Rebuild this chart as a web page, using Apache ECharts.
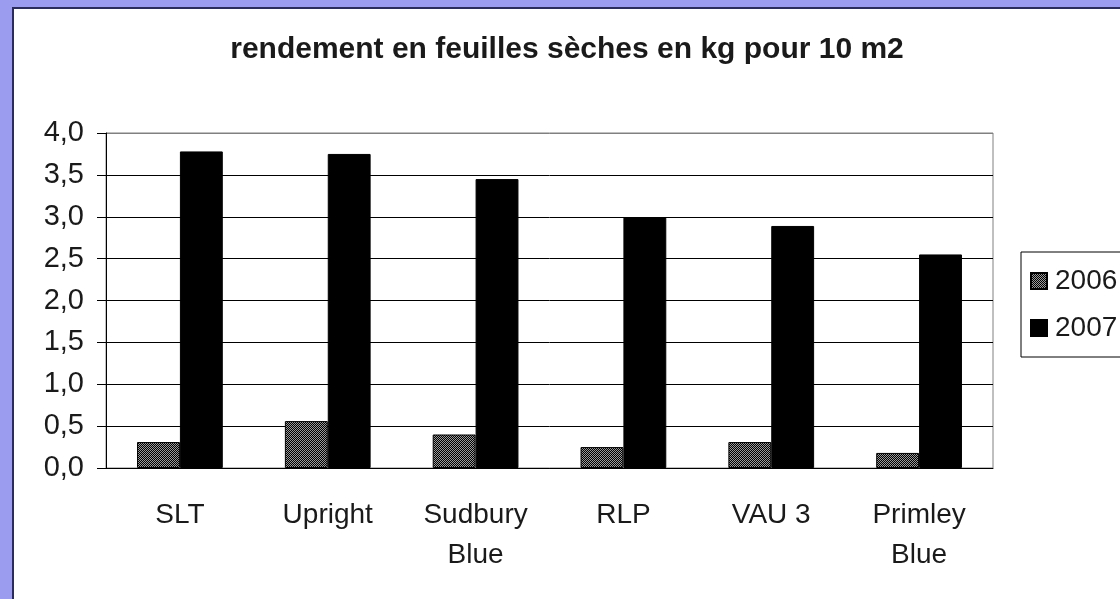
<!DOCTYPE html>
<html>
<head>
<meta charset="utf-8">
<script src="https://cdn.jsdelivr.net/npm/echarts@6/dist/echarts.min.js"></script>
<style>
  html, body { margin: 0; padding: 0; background: #9b9bef; overflow: hidden; }
  #show-report {
    position: absolute; left: 12px; top: 7px;
    width: 1106px; height: 590px;
    background: #fff;
    border-left: 2px solid #2c2c5c; border-top: 2px solid #2c2c5c;
  }
</style>
</head>
<body>
<div id="show-report"></div>
<script>
// données
var categories = ['SLT', 'Upright', 'Sudbury\nBlue', 'RLP', 'VAU 3', 'Primley\nBlue'];
var yield2006 = [0.31, 0.56, 0.40, 0.25, 0.31, 0.18];
var yield2007 = [3.78, 3.75, 3.45, 2.99, 2.89, 2.55];
var seriesNames = ['2006', '2007'];

// motif hachuré pour 2006
var pat = document.createElement('canvas');
pat.width = 2; pat.height = 2;
var ctx = pat.getContext('2d');
ctx.fillStyle = '#9a9a9a'; ctx.fillRect(0, 0, 2, 2);
ctx.fillStyle = '#000000'; ctx.fillRect(0, 0, 1, 1); ctx.fillRect(1, 1, 1, 1);

var myChart = echarts.init(document.getElementById('show-report'));
var font = '"Liberation Sans", Arial, sans-serif';

var option = {
  animation: false,
  title: {
    text: 'rendement en feuilles sèches en kg pour 10 m2',
    left: 'center',
    top: 21,
    textStyle: { fontFamily: font, fontSize: 30, fontWeight: 'bold', color: '#1a1a1a' }
  },
  legend: {
    left: 1007, top: 243,
    orient: 'vertical',
    data: seriesNames,
    itemWidth: 16, itemHeight: 16,
    itemGap: 19,
    padding: [15, 30, 15, 9],
    borderColor: '#000', borderWidth: 1,
    backgroundColor: '#fff',
    icon: 'rect',
    textStyle: { fontFamily: font, fontSize: 28, color: '#1a1a1a', padding: [0, 0, 0, 3] }
  },
  grid: { left: 92, top: 124, right: 127, bottom: 131, show: true, borderColor: '#808080', borderWidth: 1 },
  xAxis: {
    type: 'category',
    data: categories,
    axisLine: { lineStyle: { color: '#000', width: 1 } },
    axisTick: { length: 8, lineStyle: { color: '#000' } },
    axisLabel: { fontFamily: font, fontSize: 28, color: '#1a1a1a', margin: 27, lineHeight: 40 }
  },
  yAxis: {
    type: 'value',
    min: 0, max: 4, interval: 0.5,
    axisLine: { show: true, lineStyle: { color: '#000', width: 1 } },
    axisTick: { show: true, length: 9, lineStyle: { color: '#000' } },
    splitLine: { lineStyle: { color: ['#000', '#000', '#000', '#000', '#000', '#000', '#000', '#000', '#808080'], width: 1 } },
    axisLabel: {
      fontFamily: font, fontSize: 29, color: '#1a1a1a', margin: 22,
      formatter: function (v) { return v.toFixed(1).replace('.', ','); }
    }
  },
  series: [
    {
      name: seriesNames[0], type: 'bar', data: yield2006,
      barGap: '0%', barCategoryGap: '42%',
      itemStyle: { color: { image: pat, repeat: 'repeat' }, borderColor: '#000', borderWidth: 1 }
    },
    {
      name: seriesNames[1], type: 'bar', data: yield2007,
      itemStyle: { color: '#000', borderColor: '#000', borderWidth: 1 }
    }
  ]
};

myChart.setOption(option);
</script>
</body>
</html>
